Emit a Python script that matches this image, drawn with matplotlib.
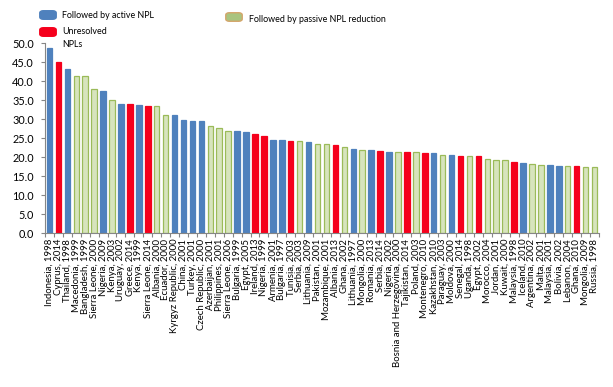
import matplotlib
matplotlib.use("Agg")
import matplotlib.pyplot as plt
from matplotlib.patches import FancyBboxPatch
import numpy as np

plt.rcParams['font.family'] = ['Lato', 'DejaVu Sans']

categories = [
    "Indonesia, 1998", "Cyprus, 2014", "Thailand, 1998", "Macedonia, 1999", "Bangladesh, 1999",
    "Sierra Leone, 2000", "Nigeria, 2009", "Kenya, 2003", "Uruguay, 2002", "Greece, 2014",
    "Kenya, 1999", "Sierra Leone, 2014", "Albania, 2000", "Ecuador, 2000", "Kyrgyz Republic, 2000",
    "China, 2001", "Turkey, 2001", "Czech Republic, 2000", "Azerbaijan, 2001", "Philippines, 2001",
    "Sierra Leone, 2006", "Bulgaria, 1999", "Egypt, 2005", "Ireland, 2013", "Nigeria, 1999",
    "Armenia, 2001", "Bulgaria, 1997", "Tunisia, 2003", "Serbia, 2003", "Lithuania, 2009",
    "Pakistan, 2001", "Mozambique, 2001", "Albania, 2013", "Ghana, 2002", "Lithuania, 1997",
    "Mongolia, 2000", "Romania, 2013", "Serbia, 2014", "Nigeria, 2002", "Bosnia and Herzegovina, 2000",
    "Tajikistan, 2014", "Poland, 2003", "Montenegro, 2010", "Kazakhstan, 2010", "Paraguay, 2003",
    "Moldova, 2000", "Senegal, 2014", "Uganda, 1998", "Egypt, 2002", "Morocco, 2004",
    "Jordan, 2001", "Kuwait, 2000", "Malaysia, 1998", "Iceland, 2010", "Argentina, 2002",
    "Malta, 2001", "Malaysia, 2001", "Bolivia, 2002", "Lebanon, 2004", "Ghana, 2010",
    "Mongolia, 2009", "Russia, 1998",
]
values = [
    48.8, 45.0, 43.2, 41.4, 41.4, 38.0, 37.4, 35.1, 34.1, 34.1,
    33.8, 33.5, 33.5, 31.1, 31.1, 29.8, 29.5, 29.5, 28.2, 27.7,
    26.9, 26.9, 26.6, 26.0, 25.6, 24.6, 24.6, 24.3, 24.3, 24.0,
    23.5, 23.5, 23.2, 22.6, 22.2, 21.9, 21.9, 21.7, 21.4, 21.4,
    21.4, 21.3, 21.1, 21.1, 20.6, 20.6, 20.3, 20.3, 20.3, 19.5,
    19.2, 19.2, 18.7, 18.4, 18.2, 17.9, 17.9, 17.7, 17.7, 17.7,
    17.4, 17.4,
]
# A = active NPL reduction, U = unresolved, P = passive NPL reduction
groups = [
    "A", "U", "A", "P", "P", "P", "A", "P", "A", "U",
    "A", "U", "P", "P", "A", "A", "A", "A", "P", "P",
    "P", "A", "A", "U", "U", "A", "A", "U", "P", "A",
    "P", "P", "U", "P", "A", "P", "A", "U", "A", "P",
    "U", "P", "U", "A", "P", "A", "U", "P", "U", "P",
    "P", "P", "U", "A", "P", "P", "A", "A", "P", "U",
    "P", "P",
]
legend_labels = {"A": "Followed by active NPL", "U": "Unresolved\nNPLs",
                 "P": "Followed by passive NPL reduction"}
yticks = [0, 5, 10, 15, 20, 25, 30, 35, 40, 45, 50]

face = {"A": "#4F81BD", "U": "#F5001C", "P": "#D7E4BD"}
edge = {"A": "#4F81BD", "U": "#F5001C", "P": "#9BBB59"}

fig = plt.figure(figsize=(6.13, 3.87), dpi=100)
ax = fig.add_axes([45 / 613, 1 - 233.3 / 387, 554 / 613, 190 / 387])

x = np.arange(len(categories))
for xi, v, g in zip(x, values, groups):
    ax.bar(xi, v, width=0.62, color=face[g], edgecolor=edge[g], linewidth=0.9)

ax.set_xlim(-0.5, len(categories) - 0.5)
ax.set_ylim(0, 50)
ax.set_yticks(yticks)
ax.set_yticklabels([f"{t:.1f}" for t in yticks], fontsize=7.8)
ax.set_xticks(x)
ax.set_xticklabels(categories, rotation=90, fontsize=6.9, ha="center", va="top")
ax.set_xticks(np.arange(-0.5, len(categories)), minor=True)
ax.tick_params(axis="x", which="major", length=0, pad=4)
ax.tick_params(axis="x", which="minor", length=3, color="#868686", width=0.8)
ax.tick_params(axis="y", length=3, color="#868686", width=0.8, pad=5)
for s in ["top", "right"]:
    ax.spines[s].set_visible(False)
for s in ["left", "bottom"]:
    ax.spines[s].set_color("#868686")
    ax.spines[s].set_linewidth(0.8)

# legend drawn manually (figure pixel layout)
def patch(px, py, fc, ec):
    w, h = 14 / 613, 7 / 387
    p = FancyBboxPatch((px / 613, 1 - py / 387 - h / 2), w, h,
                       boxstyle="round,pad=0.002,rounding_size=0.006",
                       transform=fig.transFigure, facecolor=fc, edgecolor=ec, linewidth=1)
    fig.patches.append(p)

patch(41, 15, face["A"], face["A"])
fig.text(62 / 613, 1 - 16 / 387, legend_labels["A"], fontsize=6.4, va="center", ha="left")
patch(41, 32, face["U"], face["U"])
fig.text(62 / 613, 1 - 27.5 / 387, legend_labels["U"], fontsize=6.4, va="top", ha="left",
         linespacing=1.55)
patch(227, 17, "#A9C47F", "#D4A56A")
fig.text(249 / 613, 1 - 19 / 387, legend_labels["P"], fontsize=6.4, va="center", ha="left")

fig.savefig("out.png", dpi=100)
